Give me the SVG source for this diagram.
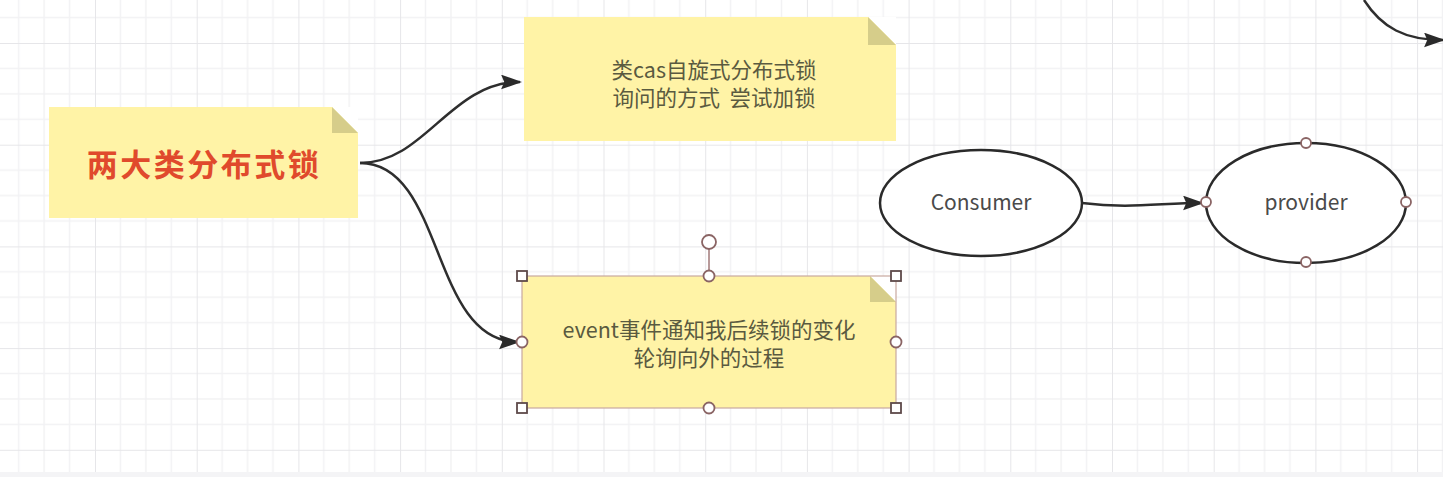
<svg xmlns="http://www.w3.org/2000/svg" width="1443" height="477" viewBox="0 0 1443 477">
<defs>
<pattern id="grid" x="95" y="43" width="101.7" height="101.7" patternUnits="userSpaceOnUse">
<path d="M25.4 0V101.7M50.85 0V101.7M76.3 0V101.7M0 25.4H101.7M0 50.85H101.7M0 76.3H101.7" stroke="#f2f2f4" stroke-width="1.5" fill="none"/>
<path d="M0 0V101.7M0 0H101.7" stroke="#e6e6e9" stroke-width="2" fill="none"/>
</pattern>
<marker id="arr" viewBox="0 0 20 14" refX="18" refY="7" markerWidth="21" markerHeight="15" markerUnits="userSpaceOnUse" orient="auto">
<path d="M0 0L20 7L0 14L3 7Z" fill="#2a2a2a"/>
</marker>
<style>
.note{fill:#fff3a6}
.fold{fill:#d6cd8a}
.txt{font-family:"Noto Sans CJK SC","Liberation Sans",sans-serif;font-size:21.5px;fill:#5a5a40;text-anchor:middle}
.edge{fill:none;stroke:#2e2e2e;stroke-width:2.5}
.ell{fill:#ffffff;stroke:#2a2a2a;stroke-width:2.5}
.etxt{font-family:"Noto Sans CJK SC","Liberation Sans",sans-serif;font-size:21px;fill:#4a4a4a;text-anchor:middle}
.hc{fill:#ffffff;stroke:#8a6464;stroke-width:1.8}
.hs{fill:#ffffff;stroke:#5e4a4a;stroke-width:1.8}
</style>
</defs>
<rect width="1443" height="477" fill="#ffffff"/>
<rect width="1443" height="477" fill="url(#grid)"/>
<rect y="472" width="1443" height="5" fill="#f4f4f6"/>

<g id="connectors">
<path class="edge" d="M360 163C425 163 450 82 520 82" marker-end="url(#arr)"/>
<path class="edge" d="M360 163C445 163 430 342 518 342" marker-end="url(#arr)"/>
<path class="edge" d="M1082 203C1130 209 1160 203 1202 203" marker-end="url(#arr)"/>
<path class="edge" d="M1364 0C1382 28 1405 40 1443 40" marker-end="url(#arr)"/>
</g>

<g id="node-title">
<rect class="note" x="49" y="107" width="309" height="111"/>
<path d="M332 107H358V133Z" fill="#ffffff"/>
<path class="fold" d="M332 107L358 133H332Z"/>
<text x="204" y="176" font-family="'Noto Sans CJK SC','Liberation Sans',sans-serif" font-size="31" font-weight="bold" fill="#e04a2c" text-anchor="middle" letter-spacing="2.5">两大类分布式锁</text>
</g>

<g id="node-cas">
<rect class="note" x="524" y="17" width="372" height="124"/>
<path d="M868 17H896V45Z" fill="#ffffff"/>
<path class="fold" d="M868 17L896 45H868Z"/>
<text class="txt" x="714" y="78">类cas自旋式分布式锁</text>
<text class="txt" x="714" y="106" xml:space="preserve">询问的方式&#160;&#160;尝试加锁</text>
</g>

<g id="node-event">
<rect class="note" x="522" y="276" width="374" height="132"/>
<path d="M870 276H896V302Z" fill="#ffffff"/>
<path class="fold" d="M870 276L896 302H870Z"/>
<rect x="522" y="276" width="374" height="132" fill="none" stroke="#c9a9a0" stroke-width="1.2"/>
<text class="txt" x="709" y="338">event事件通知我后续锁的变化</text>
<text class="txt" x="709" y="366">轮询向外的过程</text>
<line x1="709" y1="249" x2="709" y2="276" stroke="#a07878" stroke-width="1.5"/>
<circle class="hc" cx="709" cy="242" r="7"/>
<circle class="hc" cx="709" cy="276" r="5.5"/>
<circle class="hc" cx="709" cy="408" r="5.5"/>
<circle class="hc" cx="522" cy="342" r="5.5"/>
<circle class="hc" cx="896" cy="342" r="5.5"/>
<rect class="hs" x="517" y="271" width="10" height="10"/>
<rect class="hs" x="891" y="271" width="10" height="10"/>
<rect class="hs" x="517" y="403" width="10" height="10"/>
<rect class="hs" x="891" y="403" width="10" height="10"/>
</g>

<g id="node-consumer">
<ellipse class="ell" cx="981" cy="203" rx="101" ry="53"/>
<text class="etxt" x="981" y="210">Consumer</text>
</g>

<g id="node-provider">
<ellipse class="ell" cx="1306" cy="203" rx="100" ry="60"/>
<text class="etxt" x="1306" y="210">provider</text>
<circle class="hc" cx="1306" cy="143" r="5"/>
<circle class="hc" cx="1306" cy="262" r="5"/>
<circle class="hc" cx="1206" cy="202" r="5"/>
<circle class="hc" cx="1406" cy="202" r="5"/>
</g>
</svg>
